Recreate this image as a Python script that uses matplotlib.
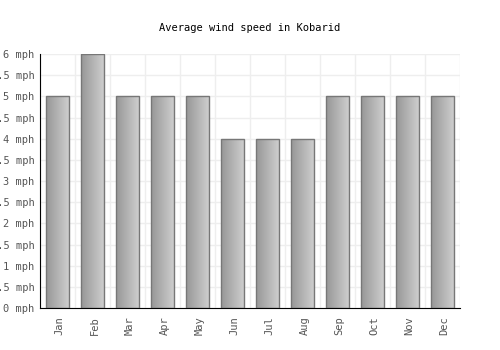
import numpy as np
import matplotlib
matplotlib.use("Agg")
import matplotlib.pyplot as plt
from matplotlib.transforms import ScaledTranslation

months = ["Jan", "Feb", "Mar", "Apr", "May", "Jun", "Jul", "Aug", "Sep", "Oct", "Nov", "Dec"]
wind = [5, 6, 5, 5, 5, 4, 4, 4, 5, 5, 5, 5]
yticks = [0, 0.5, 1, 1.5, 2, 2.5, 3, 3.5, 4, 4.5, 5, 5.5, 6]

plt.rcParams["font.family"] = "DejaVu Sans Mono"

fig = plt.figure(figsize=(5, 3.5), dpi=100)
ax = fig.add_axes([0.08, 0.12, 0.84, 0.7257])

x = np.arange(len(months))
bars = ax.bar(x, wind, width=0.68, color="none", edgecolor="#777777", linewidth=1, zorder=3)

# horizontal gradient inside each bar
grad = np.linspace(0, 1, 64).reshape(1, -1)
cmap = matplotlib.colors.LinearSegmentedColormap.from_list("g", ["#979797", "#d0d0d0"])
for b in bars:
    x0, y0 = b.get_x(), b.get_y()
    w, h = b.get_width(), b.get_height()
    im = ax.imshow(grad, cmap=cmap, aspect="auto", extent=[x0, x0 + w, y0, y0 + h], zorder=2)
    im.set_clip_path(b)

ax.set_xlim(-0.5, len(months) - 0.5)
ax.set_ylim(0, 6)
ax.set_xticks(x)
ax.set_xticklabels(months, rotation=90, fontsize=7.5, color="#555555")
ax.set_yticks(yticks)
ax.set_yticklabels([f"{v:g} mph" for v in yticks], fontsize=7.5, color="#555555")
ax.tick_params(length=0, pad=4)
ax.tick_params(axis="x", pad=6)

# nudge month labels slightly right like the original
off = ScaledTranslation(2 / 100, 0, fig.dpi_scale_trans)
for lbl in ax.get_xticklabels():
    lbl.set_transform(lbl.get_transform() + off)

# grid at category boundaries and at y ticks
ax.set_xticks(np.arange(-0.5, len(months)), minor=True)
ax.tick_params(which="minor", length=0)
ax.grid(True, which="minor", axis="x", color="#eeeeee", linewidth=1, zorder=0)
ax.grid(True, which="major", axis="y", color="#eeeeee", linewidth=1, zorder=0)
ax.set_axisbelow(True)

for s in ["top", "right"]:
    ax.spines[s].set_visible(False)
ax.spines["left"].set_color("black")
ax.spines["bottom"].set_color("black")

fig.text(0.5, 0.92, "Average wind speed in Kobarid", ha="center", va="center", fontsize=7.5)

fig.savefig("out.png", dpi=100)
